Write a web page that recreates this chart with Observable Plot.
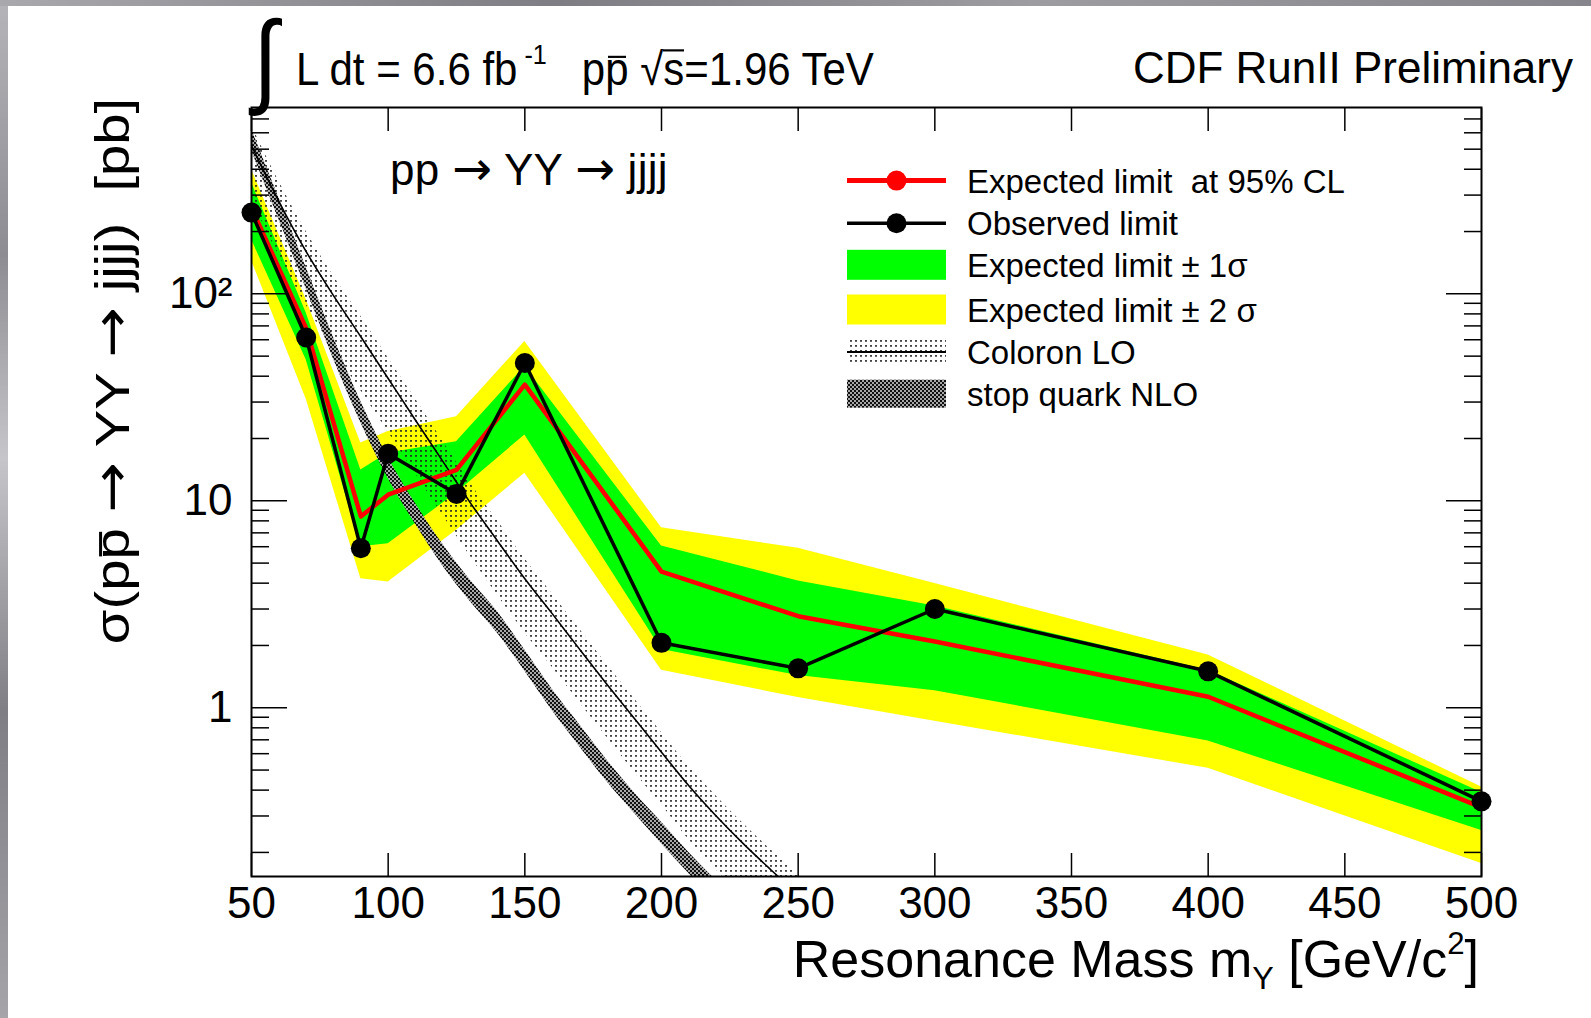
<!DOCTYPE html>
<html>
<head>
<meta charset="utf-8">
<script src="https://cdn.jsdelivr.net/npm/d3@7"></script>
<script src="https://cdn.jsdelivr.net/npm/@observablehq/plot@0.6"></script>
<style>
html, body { margin: 0; padding: 0; background: #fff; overflow: hidden; }
#page { position: relative; width: 1591px; height: 1018px; font-family: "Liberation Sans", Arial, sans-serif; color: #000; }
#page svg.plotsvg { position: absolute; left: 0; top: 0; }
.t { position: absolute; white-space: nowrap; line-height: 1; }
.ovp { position: relative; }
.ovp::before { content: ""; position: absolute; left: 0.06em; right: 0.06em; top: 0.27em; border-top: 0.065em solid #000; }
.ovs { position: relative; }
.ovs::before { content: ""; position: absolute; left: -0.02em; right: 0.02em; top: 0.12em; border-top: 0.06em solid #000; }
.arr { font-family: "DejaVu Sans", sans-serif; font-size: 1.08em; }
.sup { position: relative; font-size: 0.6em; line-height: 0; top: -0.75em; }
.sub { position: relative; font-size: 0.62em; line-height: 0; top: 0.38em; }
#stripL { position: absolute; left: 0; top: 0; width: 8px; height: 1018px;
  background: linear-gradient(to bottom, #b4b4b9 0%, #8c8c92 25%, #c6c6ca 45%, #7e7e84 70%, #a4a4a9 100%); }
#stripT { position: absolute; left: 0; top: 0; width: 1591px; height: 6px;
  background: linear-gradient(to right, #a8a8ad 0%, #7d7d83 35%, #9c9ca1 65%, #85858b 100%); }
</style>
</head>
<body>
<div id="page">
  <svg width="0" height="0" style="position:absolute">
    <defs>
      <pattern id="coloronPat" patternUnits="userSpaceOnUse" width="5" height="5">
        <rect x="0" y="0" width="2" height="1.8" fill="#222" fill-opacity="0.85"></rect>
      </pattern>
      <pattern id="stopPat" patternUnits="userSpaceOnUse" width="4" height="4">
        <rect x="0" y="0" width="4" height="4" fill="#a8a8a8"></rect>
        <rect x="0" y="0" width="2" height="2" fill="#111"></rect>
        <rect x="2" y="2" width="2" height="2" fill="#111"></rect>
      </pattern>
    </defs>
  </svg>
</div>
<script>
// ---- data ----
const mass = [50, 70, 90, 100, 125, 150, 200, 250, 300, 400, 500];
const observedLimit = [247, 61.5, 5.9, 16.9, 10.8, 46.3, 2.06, 1.55, 3.0, 1.50, 0.353];
const expectedLimit = [260, 68, 8.4, 10.7, 14.1, 36.4, 4.55, 2.77, 2.09, 1.13, 0.33];
const band1Low  = [183, 48, 6.0, 6.2, 10.9, 20.8, 1.91, 1.43, 1.21, 0.69, 0.255];
const band1High = [345, 81, 14.1, 17, 19.3, 44.6, 6.04, 4.1, 3.1, 1.52, 0.39];
const band2Low  = [145, 31, 4.2, 4.05, 7.2, 13.6, 1.52, 1.12, 0.86, 0.51, 0.177];
const band2High = [400, 94, 19, 21.6, 25.5, 58.9, 7.41, 5.9, 3.98, 1.8, 0.414];

const theoryMass   = [50, 60, 70, 80, 90, 100, 110, 120, 130, 140, 150, 160, 170, 180, 190, 200, 210, 220, 230, 240, 250];
const coloronLO    = [520, 280, 160, 98, 62, 39, 24.5, 15.5, 9.8, 6.4, 4.2, 2.85, 1.92, 1.3, 0.89, 0.61, 0.42, 0.30, 0.22, 0.165, 0.125];
const coloronLow   = [286, 154, 88, 54, 34, 21.5, 13.5, 8.5, 5.4, 3.5, 2.3, 1.57, 1.06, 0.72, 0.49, 0.34, 0.23, 0.165, 0.12, 0.09, 0.069];
const coloronHigh  = [650, 350, 200, 122, 78, 49, 31, 19.4, 12.2, 8, 5.25, 3.56, 2.4, 1.62, 1.11, 0.76, 0.52, 0.375, 0.275, 0.206, 0.156];
const stopNLOLow   = [493, 229, 106, 48.4, 23.8, 12.8, 7.7, 4.84, 3.26, 2.29, 1.5, 0.97, 0.65, 0.44, 0.31, 0.22, 0.158, 0.114, 0.084, 0.062, 0.046];
const stopNLOHigh  = [627, 291, 134, 61.6, 30.2, 16.2, 9.7, 6.16, 4.14, 2.91, 1.9, 1.23, 0.83, 0.56, 0.39, 0.28, 0.2, 0.146, 0.106, 0.078, 0.058];

const xTicks = [50, 100, 150, 200, 250, 300, 350, 400, 450, 500];
const yMajor = [1, 10, 100];
const yMinor = [0.2, 0.3, 0.4, 0.5, 0.6, 0.7, 0.8, 0.9, 2, 3, 4, 5, 6, 7, 8, 9, 20, 30, 40, 50, 60, 70, 80, 90, 200, 300, 400, 500, 600, 700];
const yTickLabels = {1: "1", 10: "10", 100: "10²"};

// ---- tables ----
const rows = mass.map((m, i) => ({m, obs: observedLimit[i], exp: expectedLimit[i],
  lo1: band1Low[i], hi1: band1High[i], lo2: band2Low[i], hi2: band2High[i]}));
const theory = theoryMass.map((m, i) => ({m, c: coloronLO[i], cLo: coloronLow[i], cHi: coloronHigh[i],
  sLo: stopNLOLow[i], sHi: stopNLOHigh[i]}));

const FONT = '"Liberation Sans", Arial, sans-serif';

const chart = Plot.plot({
  width: 1591, height: 1018,
  marginLeft: 251, marginRight: 110, marginTop: 107, marginBottom: 142,
  style: {background: "transparent", fontFamily: FONT, color: "#000", overflow: "visible"},
  x: {domain: [50, 500]},
  y: {type: "log", domain: [0.153, 795]},
  marks: [
    Plot.areaY(rows, {x: "m", y1: "lo2", y2: "hi2", fill: "#ffff00", clip: true}),
    Plot.areaY(rows, {x: "m", y1: "lo1", y2: "hi1", fill: "#00ff00", clip: true}),
    Plot.areaY(theory, {x: "m", y1: "cLo", y2: "cHi", fill: "url(#coloronPat)", curve: "monotone-x", clip: true}),
    Plot.areaY(theory, {x: "m", y1: "sLo", y2: "sHi", fill: "url(#stopPat)", curve: "monotone-x", clip: true}),
    Plot.line(theory, {x: "m", y: "c", stroke: "#000", strokeWidth: 1.6, curve: "monotone-x", clip: true}),
    Plot.line(rows, {x: "m", y: "exp", stroke: "#ff0000", strokeWidth: 4.5}),
    Plot.line(rows, {x: "m", y: "obs", stroke: "#000", strokeWidth: 3.5}),
    Plot.dot(rows, {x: "m", y: "obs", r: 10, fill: "#000"}),
    Plot.frame({stroke: "#000", strokeWidth: 2}),
    Plot.axisX({anchor: "bottom", ticks: xTicks, tickSize: -23, fill: "none", label: null, strokeWidth: 1.5}),
    Plot.axisX({anchor: "top", ticks: xTicks, tickSize: -23, fill: "none", label: null, strokeWidth: 1.5}),
    Plot.axisX({anchor: "bottom", ticks: xTicks, tickSize: 0, tickPadding: 10, fontSize: 44, label: null, tickFormat: d => `${d}`}),
    Plot.axisY({anchor: "left", ticks: yMajor, tickSize: -36, fill: "none", label: null, strokeWidth: 1.5}),
    Plot.axisY({anchor: "right", ticks: yMajor, tickSize: -36, fill: "none", label: null, strokeWidth: 1.5}),
    Plot.axisY({anchor: "left", ticks: yMinor, tickSize: -18, fill: "none", label: null, strokeWidth: 1.5}),
    Plot.axisY({anchor: "right", ticks: yMinor, tickSize: -18, fill: "none", label: null, strokeWidth: 1.5}),
    Plot.axisY({anchor: "left", ticks: yMajor, tickSize: 0, tickPadding: 19, fontSize: 44, label: null, tickFormat: d => yTickLabels[d]})
  ]
});
chart.classList.add("plotsvg");
const page = document.getElementById("page");
page.appendChild(chart);

// ---- text helpers ----
function addText(html, {left, right, baseline, size, extra = ""}) {
  const d = document.createElement("div");
  d.className = "t";
  d.innerHTML = html;
  d.style.fontSize = size + "px";
  d.style.top = (baseline - 0.8465 * size) + "px";
  if (left !== undefined) d.style.left = left + "px";
  if (right !== undefined) d.style.right = right + "px";
  if (extra) d.style.cssText += extra;
  page.appendChild(d);
  return d;
}

const ARROW = '<span class="arr">→</span>';
// integral sign and header
addText("∫", {left: 253, baseline: 93, size: 90, extra: "transform:scaleY(1.15);transform-origin:0 80%;"});
addText('L dt = 6.6 fb<span class="sup">&nbsp;-1</span>&nbsp;&nbsp; p<span class="ovp">p</span> √<span class="ovs">s</span>=1.96 TeV',
  {left: 296, baseline: 86, size: 42, extra: "transform:scaleY(1.08);transform-origin:0 85%;"});
addText("CDF RunII Preliminary", {right: 18, baseline: 83, size: 44});
addText(`pp ${ARROW} YY ${ARROW} jjjj`, {left: 390, baseline: 182, size: 44, extra: "letter-spacing:0.3px;"});

// axis titles
addText('Resonance Mass m<span class="sub">Y</span> [GeV/c<span class="sup">2</span>]', {right: 112, baseline: 977, size: 52});
const yl = document.createElement("div");
yl.className = "t";
yl.innerHTML = `σ(p<span class="ovp">p</span> ${ARROW} YY ${ARROW} jjjj)&nbsp;&nbsp;[pb]`;
yl.style.cssText += "font-size:48px;left:112px;top:371px;transform:translate(-50%,-50%) rotate(-90deg) scaleX(1.17);";
page.appendChild(yl);

// ---- legend ----
const legendY = [180.6, 223.2, 264.8, 309.5, 352, 393.7];
const legendText = ["Expected limit&nbsp;&nbsp;at 95% CL", "Observed limit", "Expected limit ± 1σ",
  "Expected limit ± 2 σ", "Coloron LO", "stop quark NLO"];
const ns = "http://www.w3.org/2000/svg";
const lg = document.createElementNS(ns, "svg");
lg.setAttribute("width", 120); lg.setAttribute("height", 260);
lg.style.cssText = "position:absolute;left:840px;top:160px;";
const oy = 160, ox = 840;
const x0 = 847 - ox, x1 = 946 - ox, xc = (x0 + x1) / 2;
lg.innerHTML = `
  <line x1="${x0}" x2="${x1}" y1="${legendY[0]-oy}" y2="${legendY[0]-oy}" stroke="#ff0000" stroke-width="5"/>
  <circle cx="${xc}" cy="${legendY[0]-oy}" r="10" fill="#ff0000"/>
  <line x1="${x0}" x2="${x1}" y1="${legendY[1]-oy}" y2="${legendY[1]-oy}" stroke="#000" stroke-width="3.5"/>
  <circle cx="${xc}" cy="${legendY[1]-oy}" r="10" fill="#000"/>
  <rect x="${x0}" width="${x1-x0}" y="${legendY[2]-oy-15}" height="30" fill="#00ff00"/>
  <rect x="${x0}" width="${x1-x0}" y="${legendY[3]-oy-15}" height="30" fill="#ffff00"/>
  <rect x="${x0}" width="${x1-x0}" y="${legendY[4]-oy-13}" height="26" fill="url(#coloronPat)"/>
  <line x1="${x0}" x2="${x1}" y1="${legendY[4]-oy}" y2="${legendY[4]-oy}" stroke="#000" stroke-width="2"/>
  <rect x="${x0}" width="${x1-x0}" y="${legendY[5]-oy-14}" height="28" fill="url(#stopPat)"/>`;
page.appendChild(lg);
legendY.forEach((y, i) => addText(legendText[i], {left: 967, baseline: y + 12, size: 33}));

// frame strips
const sL = document.createElement("div"); sL.id = "stripL"; page.appendChild(sL);
const sT = document.createElement("div"); sT.id = "stripT"; page.appendChild(sT);
</script>
</body>
</html>
